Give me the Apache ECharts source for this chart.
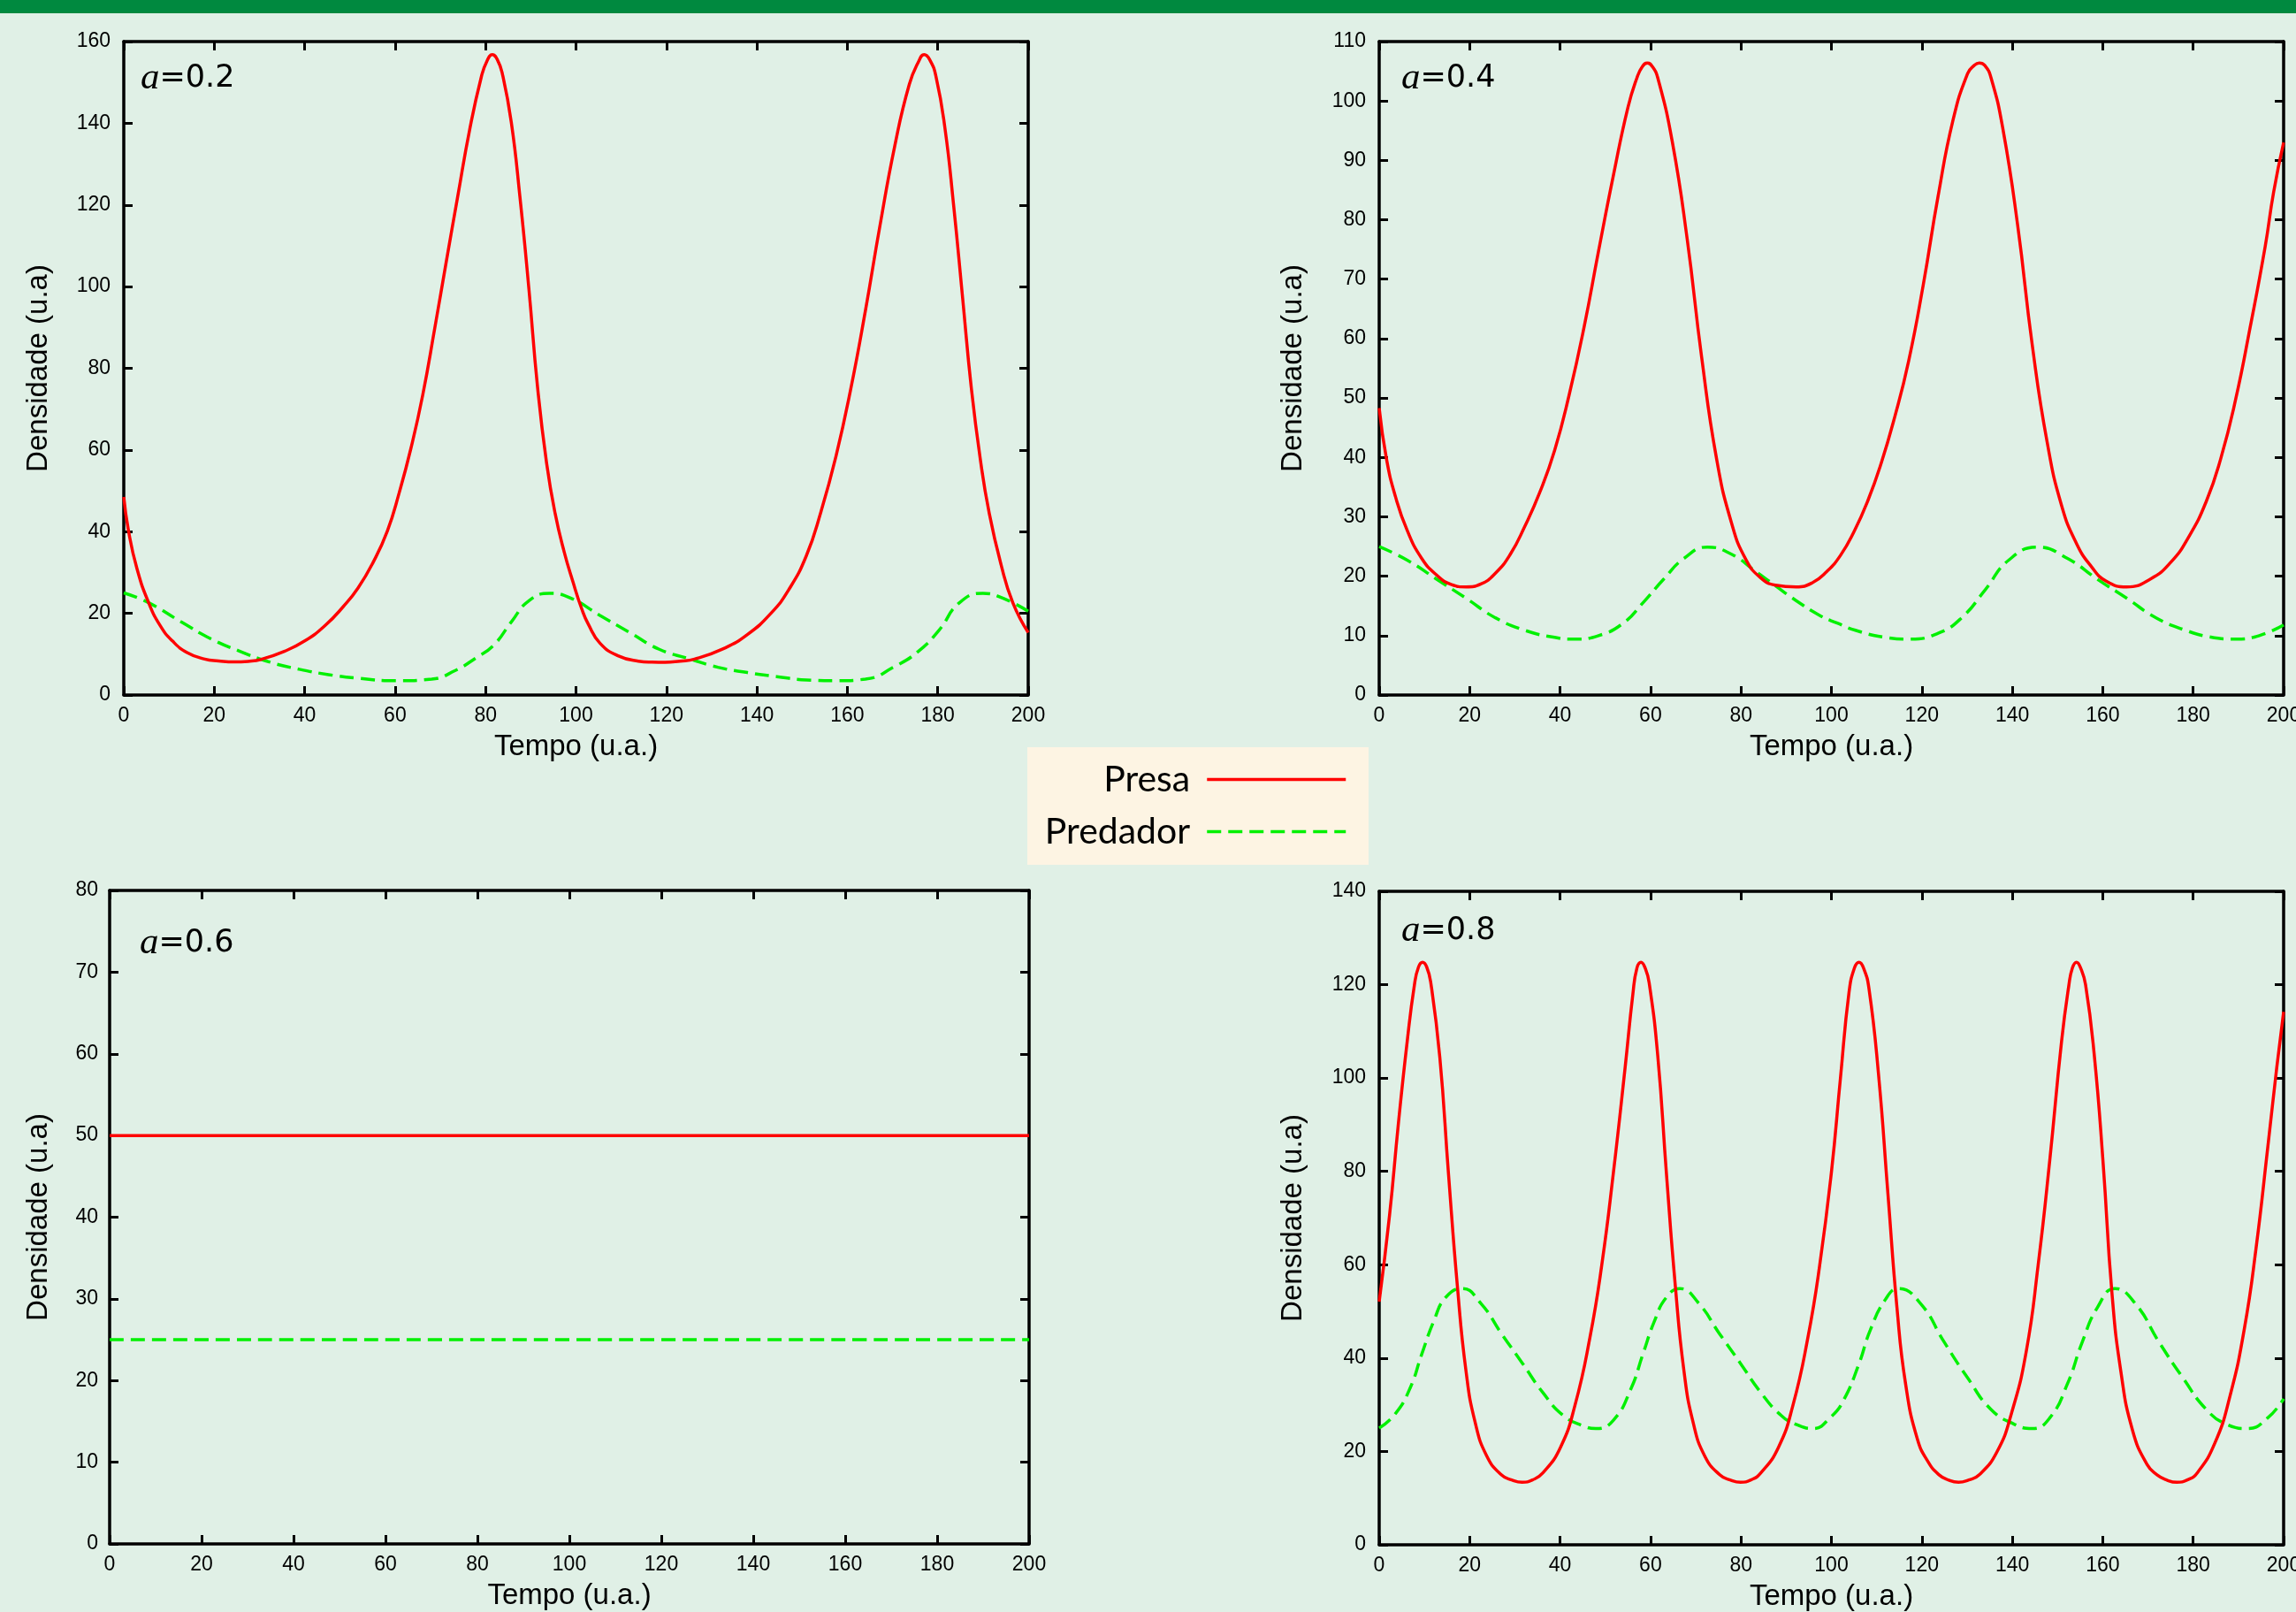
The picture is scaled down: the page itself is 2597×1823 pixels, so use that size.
<!DOCTYPE html>
<html><head><meta charset="utf-8">
<script src="https://cdn.jsdelivr.net/npm/echarts@6/dist/echarts.min.js"></script>
<style>html,body{margin:0;padding:0;background:#e0f0e6;} #c{width:2597px;height:1823px;}</style>
</head><body><div id="c"></div>
<script>
// ---- data ----
const xMin = 0, xMax = 200, xInterval = 20;
const panelLabels = ['0.2', '0.4', '0.6', '0.8'];
const yMaxes = [160, 110, 80, 140];
const yIntervals = [20, 10, 10, 20];
const seriesNames = ['Presa', 'Predador'];
const xTitle = 'Tempo (u.a.)';
const yTitle = 'Densidade (u.a)';

const presa02 = [[0,48.5],[1,40.5],[2.9,31],[5.5,22.6],[8.1,16.9],[10.7,13.3],[14,10.4],[17.9,8.8],[21,8.35],[24.4,8.1],[27.5,8.25],[30.3,8.7],[35.5,10.7],[40.1,13.3],[44.6,17.1],[48.5,21.6],[51.8,26.2],[55.1,32.4],[58.3,40.2],[60.9,49.5],[63.5,60.4],[66.1,73.4],[68.8,90],[71.3,106],[73.9,122.4],[76.5,138.5],[79.1,151.5],[80.3,155.2],[81.5,156.8],[82.6,155.6],[83.7,152.2],[85.7,140.2],[87.6,122],[89.6,99.3],[91.5,75.4],[93.5,56.8],[95.4,44.4],[97.4,35],[99.3,27.8],[101.3,21],[102.7,17.4],[105.3,12.7],[109.3,9.6],[113.8,8.3],[116.8,8.05],[119.7,8.0],[123,8.3],[126.2,8.8],[132.7,11.4],[137.9,14.8],[143.1,20],[147,25.7],[150.9,34],[154.2,45],[157.5,58.5],[160.7,74.6],[164,94.1],[167.2,114.8],[170.5,134.5],[173.7,149.5],[175.8,155.2],[177,156.8],[178.2,155.6],[179.6,151.5],[181.6,138.7],[183.5,120],[185.5,97.2],[187.4,75.4],[189.4,57.8],[191.4,44.4],[194,31.9],[196.6,22.6],[200,15.3]];
const predador02 = [[0,25],[5.5,22.6],[12.7,17.9],[19.2,13.8],[25.7,10.7],[32.2,8.1],[38.8,6.3],[45.3,5],[51.8,4.1],[60.3,3.5],[68.1,3.9],[73.3,6],[77.9,9.1],[81.8,12.2],[85.7,17.9],[89.6,23.1],[94.1,24.9],[98.7,23.8],[105.3,19.5],[111.9,15.3],[118.4,11.2],[125,8.9],[131.4,6.8],[137.9,5.5],[144.4,4.5],[151,3.7],[157.5,3.5],[164,3.9],[170.5,7],[175.7,10.7],[180.3,15.9],[184.8,22.6],[190,24.9],[194.6,23.6],[200,20.5]];

const presa04 = [[0,48.3],[1.6,39.8],[3.6,33.4],[6.2,27.7],[9.4,23],[12.7,20.2],[16,18.6],[19.2,18.2],[22.5,18.7],[25.7,20.5],[29,23.7],[32.2,28.4],[35.5,34.1],[38.8,41.2],[42,50.5],[45.3,61.9],[48.5,74.7],[51.8,87.5],[55,98.9],[57,103.9],[58.2,105.8],[59.3,106.4],[60.4,105.8],[61.6,103.9],[64.8,93.2],[68.1,76.8],[71.3,56.9],[74.6,39.8],[77.9,29],[81.1,22.8],[84.4,19.7],[87.6,18.5],[92.2,18.2],[95.8,18.9],[99,20.8],[102,23.5],[105,27.5],[108,32.6],[111,39],[114,46.8],[117.1,56.3],[120.3,69],[123.6,84],[126.9,96.8],[130.1,104.6],[131.6,106],[132.7,106.4],[133.9,106],[135.3,103.9],[137.9,95.4],[141.2,79],[144.4,59],[147.7,42.6],[150.9,31.9],[154.2,25.5],[157.5,21.6],[160.7,19.2],[165.3,18.2],[170.5,19.5],[175,22.3],[179,26.6],[182.9,32.6],[186.1,39.8],[189.4,49.8],[192.6,61.9],[195.9,75.4],[197.8,84.7],[200,93]];
const predador04 = [[0,25],[6.2,22.7],[12.7,19.5],[19.2,16.3],[25.7,13],[32.2,10.9],[38.8,9.7],[43.3,9.4],[48.5,10],[53.8,12],[58.3,15.5],[62.9,19.5],[67.4,23],[72.6,24.9],[77.9,23.7],[83.1,20.9],[87.6,18.4],[92.2,15.9],[97.4,13.4],[101.3,12.1],[105.3,10.9],[111.9,9.7],[117.1,9.4],[123.6,10.4],[128.8,13],[134,17.7],[139.2,22.7],[145.7,24.9],[152.2,23],[158.8,19.5],[165.3,16.3],[171.8,13],[178.3,10.9],[183.5,9.8],[189.4,9.4],[194.6,10],[200,11.8]];

const presa06 = [[0,50],[200,50]];
const predador06 = [[0,25],[200,25]];

const presa08 = [[0,52.1],[2.3,70.7],[4.2,89.8],[6.2,107.9],[7.8,120],[8.7,123.8],[9.6,124.8],[10.5,123.8],[11.4,120.5],[13.4,104.5],[15.3,79.8],[17.3,55.3],[19.2,37.2],[21.2,26.3],[23.8,19],[27,15],[29.3,13.9],[31.6,13.4],[33.9,13.9],[36.2,15.4],[40.1,20.9],[43.3,29.9],[46.6,44.4],[49.2,59.8],[51.8,79.8],[54.4,102.4],[56.1,118],[57,123.6],[57.9,124.8],[58.8,123.6],[59.7,120.4],[61.6,104.8],[63.5,79.8],[65.5,55.3],[67.4,37.2],[69.4,26.3],[72,19],[75.3,15],[77.6,13.9],[79.9,13.4],[82.2,13.9],[84.4,15.4],[88.3,20.9],[91.5,29.9],[94.8,44.4],[97.4,59.8],[100,79.8],[102,100],[103.9,118.4],[105.1,123.6],[106.1,124.8],[107.1,123.6],[108.3,119.2],[110.4,101],[112.5,75.2],[114.5,50.8],[116.4,34.5],[119,22.7],[121.5,17.6],[123.8,15],[125.8,13.9],[128.1,13.4],[130.4,13.9],[132.7,15],[136.6,19.9],[139.8,28.1],[143.1,41.5],[145.7,59.8],[148.3,82.5],[150.9,107.9],[152.5,119.8],[153.3,123.6],[154.2,124.8],[155.1,123.6],[156.2,120],[158.1,105.2],[160.1,81.6],[162,54.4],[164,37.2],[166.6,24.5],[169.8,17.2],[172,15],[174.1,13.9],[176.4,13.4],[178.7,13.9],[180.9,15.4],[184.8,21.8],[188.1,31.7],[191.3,46.2],[193.9,63.5],[196.5,85.2],[198.5,102.4],[200,114.2]];
const predador08 = [[0,25],[3.6,28.1],[6.8,33.5],[9.4,40.8],[12.1,48],[14.7,53],[18.3,54.9],[22.5,51.7],[27,45.3],[31.6,39],[36.2,32.6],[40.7,27.7],[45.3,25.4],[47.9,24.9],[51.8,26.7],[55.7,33.5],[58.3,40.8],[60.9,48],[63.5,53],[66.5,54.9],[70.7,51.7],[75.2,45.3],[79.8,39],[84.4,32.6],[88.9,27.7],[92.2,25.8],[95.8,24.9],[100,27.5],[102.7,31],[106,38.5],[108.6,46],[111.9,52.5],[114.8,54.9],[119.7,51.7],[124.9,43.5],[130.1,35.8],[135.3,29],[140.5,25.8],[144.4,24.9],[148.3,27.2],[152.2,34.5],[155.5,43.5],[158.8,50.8],[162.7,54.9],[167.2,51.7],[172.4,43.5],[177.7,35.8],[182.9,29],[187.4,25.8],[192,24.9],[196.5,27.2],[200,31.3]];

const presaData = [presa02, presa04, presa06, presa08];
const predadorData = [predador02, predador04, predador06, predador08];

// ---- layout / style ----
const grids = [
  {left:140, top:47, width:1023, height:739},
  {left:1560, top:47, width:1023, height:739},
  {left:124, top:1007, width:1040, height:739},
  {left:1560, top:1008, width:1023, height:739}
];
const yNameGap = [80, 81, 64, 81];
const yLabelMargin = [15, 15, 13, 15];
const annot = [[159, 67], [1585, 67], [158, 1045], [1585, 1031]];
const RED = '#ff0000', GREEN = '#00f000';
const FONT = 'Liberation Sans, Arial, sans-serif';
const LW = 3.5;

const xAxes = [], yAxes = [], series = [], graphics = [];
grids.forEach((g, i) => {
  const axLine = {show:true, onZero:false, lineStyle:{color:'#000', width:3.5}};
  const tick = {show:true, inside:true, length:10, lineStyle:{color:'#000', width:3}};
  xAxes[i] = {type:'value', gridIndex:i, position:'bottom', min:xMin, max:xMax, interval:xInterval,
    axisLine:axLine, axisTick:tick, splitLine:{show:false},
    axisLabel:{color:'#000', fontSize:23, fontFamily:FONT, margin:12},
    name:xTitle, nameLocation:'middle', nameGap:42,
    nameTextStyle:{color:'#000', fontSize:33, fontFamily:FONT}};
  xAxes[i+4] = {type:'value', gridIndex:i, position:'top', min:xMin, max:xMax, interval:xInterval,
    axisLine:axLine, axisTick:tick, splitLine:{show:false}, axisLabel:{show:false}};
  yAxes[i] = {type:'value', gridIndex:i, position:'left', min:0, max:yMaxes[i], interval:yIntervals[i],
    axisLine:axLine, axisTick:tick, splitLine:{show:false},
    axisLabel:{color:'#000', fontSize:23, fontFamily:FONT, margin:yLabelMargin[i]},
    name:yTitle, nameLocation:'middle', nameGap:yNameGap[i], nameRotate:90,
    nameTextStyle:{color:'#000', fontSize:33, fontFamily:FONT}};
  yAxes[i+4] = {type:'value', gridIndex:i, position:'right', min:0, max:yMaxes[i], interval:yIntervals[i],
    axisLine:axLine, axisTick:tick, splitLine:{show:false}, axisLabel:{show:false}};
  series.push({type:'line', name:seriesNames[0], data:presaData[i], xAxisIndex:i, yAxisIndex:i,
    symbol:'none', showSymbol:false, smooth:0.5, lineStyle:{color:RED, width:LW, type:'solid'}, itemStyle:{color:RED}, z:3});
  series.push({type:'line', name:seriesNames[1], data:predadorData[i], xAxisIndex:i, yAxisIndex:i,
    symbol:'none', showSymbol:false, smooth:0.5, lineStyle:{color:GREEN, width:LW, type:[16,8]}, itemStyle:{color:GREEN}, z:2});
  graphics.push({type:'text', left:annot[i][0], top:annot[i][1], z:10,
    style:{text:'{i|a}{n|=' + panelLabels[i] + '}', rich:{
      i:{fontFamily:'Liberation Serif, Times New Roman, serif', fontStyle:'italic', fontSize:43, fill:'#000', color:'#000'},
      n:{fontFamily:'DejaVu Sans, sans-serif', fontSize:35, fill:'#000', color:'#000'}}}});
});

graphics.push({type:'rect', left:0, top:0, shape:{width:2597, height:15}, style:{fill:'#00893f'}, z:0});
graphics.push({type:'rect', left:1162, top:845, shape:{width:386, height:133}, style:{fill:'#fdf4e3'}, z:0});

const legendCommon = {orient:'vertical', align:'right', right:1073, itemWidth:157, itemHeight:14, itemGap:0,
  padding:0, selectedMode:false,
  itemStyle:{opacity:0, borderWidth:0},
  lineStyle:{width:LW},
  textStyle:{color:'#000', fontSize:41, fontFamily:'Lato, Open Sans, sans-serif', padding:[0,14,0,0]}};

const option = {
  animation:false,
  backgroundColor:'#e0f0e6',
  grid: grids.map(g => Object.assign({outerBoundsMode:'none', containLabel:false}, g)),
  xAxis: xAxes,
  yAxis: yAxes,
  legend: [
    Object.assign({}, legendCommon, {data:[seriesNames[0]], top:861}),
    Object.assign({}, legendCommon, {data:[seriesNames[1]], top:920})
  ],
  graphic: graphics,
  series: series
};
const chart = echarts.init(document.getElementById('c'));
chart.setOption(option);
</script>
</body></html>
